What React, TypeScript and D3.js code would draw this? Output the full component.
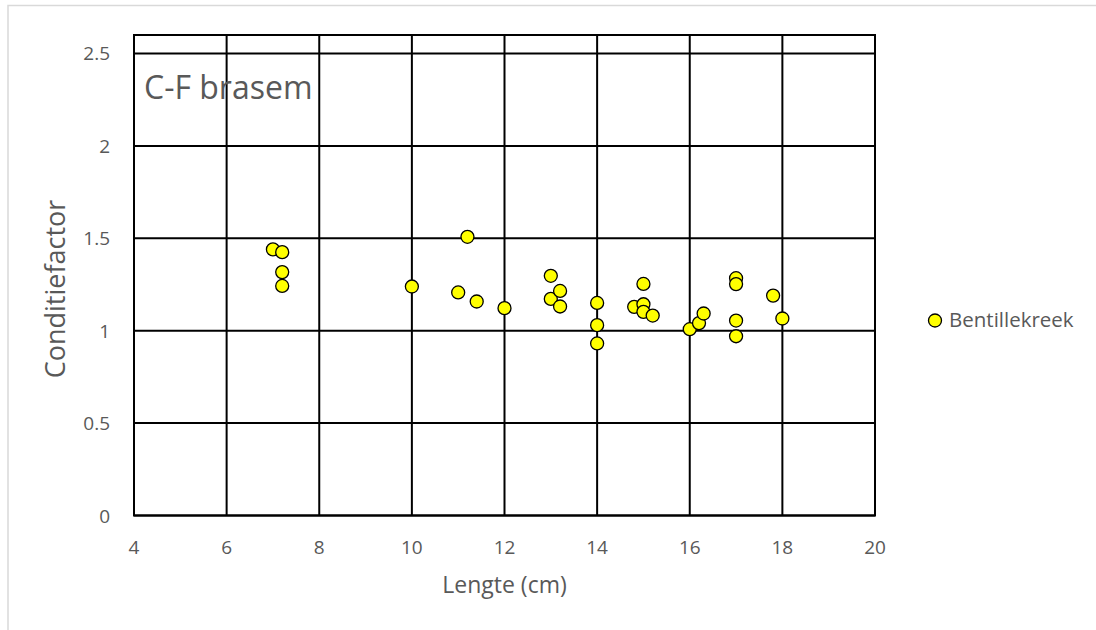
import React from "react";
import * as d3 from "d3";

const lengths = [7, 7.2, 7.2, 7.2, 10, 11, 11.2, 11.4, 12, 13, 13, 13.2, 13.2, 14, 14, 14, 14.8, 15, 15, 15, 15.2, 16, 16.2, 16.3, 17, 17, 17, 17, 17.8, 18];
const factors = [1.44, 1.425, 1.317, 1.242, 1.239, 1.207, 1.508, 1.158, 1.122, 1.297, 1.172, 1.215, 1.131, 1.15, 1.03, 0.931, 1.129, 1.253, 1.143, 1.102, 1.082, 1.008, 1.041, 1.093, 1.284, 1.252, 1.055, 0.97, 1.19, 1.066];
const xTicks = [4, 6, 8, 10, 12, 14, 16, 18, 20];
const yTicks = [0, 0.5, 1, 1.5, 2, 2.5];
const seriesName = "Bentillekreek";
const chartTitle = "C-F brasem";
const xTitle = "Lengte (cm)";
const yTitle = "Conditiefactor";

export default function App() {
  const W = 1096, H = 630;
  const x = d3.scaleLinear().domain([4, 20]).range([134, 875]);
  const y = d3.scaleLinear().domain([0, 2.6]).range([515.5, 35]);
  const font = "'Open Sans', sans-serif";
  const grey = "#595959";
  return (
    <svg width={W} height={H} style={{ position: "absolute", left: 0, top: 0 }} fontFamily={font}>
      <rect x={0} y={0} width={W} height={H} fill="#fff" />
      <rect x={8} y={5.5} width={W + 10} height={H + 10} fill="none" stroke="#d9d9d9" strokeWidth={1.5} />
      {xTicks.map((t) => (
        <line key={"vx" + t} x1={x(t)} x2={x(t)} y1={y(2.6)} y2={y(0)} stroke="#000" strokeWidth={2} />
      ))}
      {yTicks.map((t) => (
        <line key={"hy" + t} x1={x(4)} x2={x(20)} y1={y(t)} y2={y(t)} stroke="#000" strokeWidth={2} />
      ))}
      <rect x={x(4)} y={y(2.6)} width={x(20) - x(4)} height={y(0) - y(2.6)} fill="none" stroke="#000" strokeWidth={2} />
      {xTicks.map((t) => (
        <text key={"tx" + t} x={x(t)} y={554} textAnchor="middle" fontSize={19} fill={grey}>{t}</text>
      ))}
      {yTicks.map((t) => (
        <text key={"ty" + t} x={110} y={y(t) + 7} textAnchor="end" fontSize={19} fill={grey}>{t}</text>
      ))}
      <text x={(x(4) + x(20)) / 2} y={593} textAnchor="middle" fontSize={23} fill={grey}>{xTitle}</text>
      <text transform={`translate(65,289) rotate(-90)`} textAnchor="middle" fontSize={27} fill={grey}>{yTitle}</text>
      <text x={144} y={99} fontSize={32} fill={grey}>{chartTitle}</text>
      {lengths.map((l, i) => (
        <circle key={"p" + i} cx={x(l)} cy={y(factors[i])} r={6.5} fill="#ffff00" stroke="#000" strokeWidth={1.3} />
      ))}
      <circle cx={935} cy={320.5} r={6.5} fill="#ffff00" stroke="#000" strokeWidth={1.3} />
      <text x={949} y={327} fontSize={20.5} fill={grey}>{seriesName}</text>
    </svg>
  );
}
